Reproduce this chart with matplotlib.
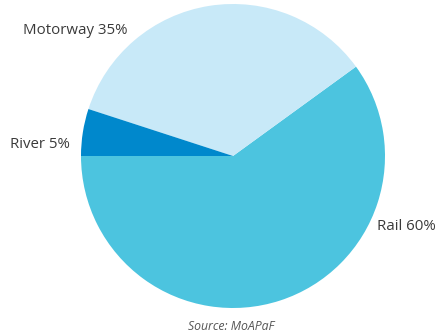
import matplotlib
matplotlib.use("Agg")
import matplotlib.pyplot as plt

# Freight modal split
categories = ["Rail", "Motorway", "River"]
shares = [60, 35, 5]
colors = ["#4cc4df", "#c8e9f8", "#0088cc"]

W, H = 439, 336
fig = plt.figure(figsize=(W / 100, H / 100), dpi=100)
ax = fig.add_axes([0, 0, 1, 1])

# pie centre and radius in pixels
cx, cy, r = 233, 156, 152
ax.pie(shares, colors=colors, startangle=180, counterclock=True, radius=1,
       wedgeprops=dict(linewidth=0))
ax.set_xlim(-cx / r, (W - cx) / r)
ax.set_ylim(-(H - cy) / r, cy / r)
ax.set_aspect("auto")
ax.axis("off")

font = "Open Sans"
tc = "#3a3a3a"
labels = [f"{c} {v}%" for c, v in zip(categories, shares)]
positions = {"Motorway": (23, 31), "River": (10, 144), "Rail": (377, 227)}
for c, lab in zip(categories, labels):
    px, py = positions[c]
    fig.text(px / W, 1 - py / H, lab, ha="left", va="center",
             fontsize=10.8, color=tc, family=font)

fig.text(231 / W, 1 - 326 / H, "Source: MoAPaF", ha="center", va="center",
         fontsize=8.8, style="italic", color="#555555", family=font)

fig.savefig("out.png", dpi=100)
